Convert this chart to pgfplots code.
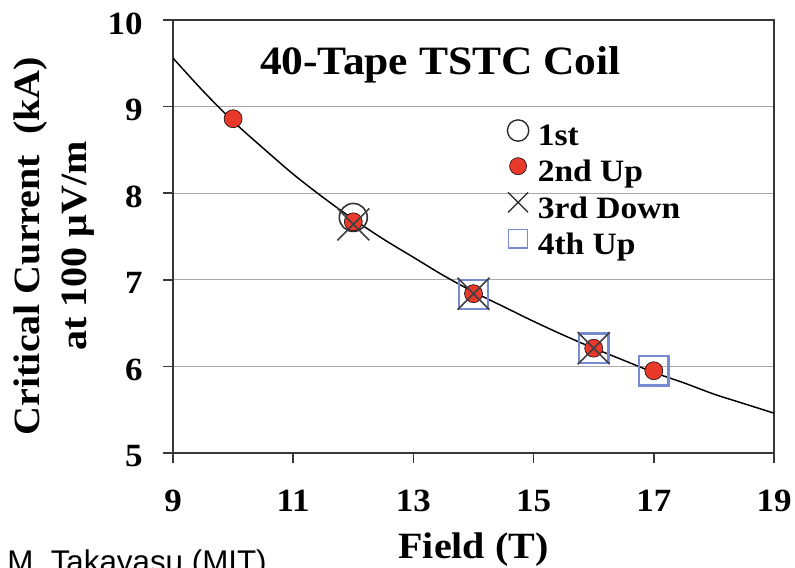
\documentclass[border=0pt]{standalone}
\usepackage{fontspec}
\setmainfont{Liberation Serif}[FakeStretch=1.08]
\newfontfamily\arialfont{Liberation Sans}
\usepackage{pgfplots}
\pgfplotsset{compat=1.18}
\definecolor{dotred}{RGB}{232,57,42}
\definecolor{sqblue}{RGB}{120,138,210}
\definecolor{gridgray}{RGB}{168,168,168}
\definecolor{axgray}{RGB}{55,55,55}
\begin{document}
\begin{tikzpicture}
\begin{axis}[
  scale only axis, width=450.75pt, height=324.75pt,
  xmin=9, xmax=19, ymin=5, ymax=10,
  xtick={9,11,...,19}, ytick={5,6,...,10},
  tick align=outside, tick pos=left, major tick length=7.5pt,
  axis line style={axgray, line width=1.2pt},
  every tick/.style={axgray, line width=1.2pt},
  ymajorgrids, major grid style={gridgray, line width=1pt},
  /pgf/number format/assume math mode=true,
  ticklabel style={font=\fontsize{24.3}{29}\selectfont\bfseries, inner sep=0pt},
  xticklabel style={anchor=base, yshift=-36pt},
  yticklabel style={anchor=east, xshift=-15pt, yshift=-2.6pt},
  xlabel={Field (T)},
  xlabel style={at={(axis description cs:0.5,-0.2425)}, anchor=base, font=\fontsize{27.8}{35}\selectfont\bfseries},
  ylabel={Critical Current\ \ (kA)\\at 100 μV/m},
  ylabel style={at={(axis description cs:-0.1975,0.478)}, anchor=center, align=center, font=\fontsize{27.8}{35}\selectfont\bfseries},
  legend image code/.code={\draw[#1] plot coordinates {(0pt,4.5pt)}; \path[draw=none,fill=none] (-8pt,-3.5pt) rectangle (8pt,12.5pt);},
  legend cell align=left,
  legend style={at={(axis description cs:0.556,0.77)}, anchor=north west, draw=none, fill=none, inner sep=0pt,
    row sep=3.8pt, column sep=4.75pt, font=\fontsize{23.3}{28}\selectfont\bfseries},
]
\addlegendimage{only marks, mark=o, mark size=8pt, draw=black!85, line width=1pt}
\addlegendentry{1st}
\addlegendimage{only marks, mark=*, mark size=6.4pt, draw=none, fill=dotred}
\addlegendentry{2nd Up}
\addlegendimage{only marks, mark=x, mark size=10.6pt, draw=black!85, line width=1pt}
\addlegendentry{3rd Down}
\addlegendimage{only marks, mark=square, mark size=7pt, draw=sqblue, line width=1pt}
\addlegendentry{4th Up}

% 1st
\addplot[forget plot, only marks, mark=o, mark size=10.5pt, draw=black!80, line width=1.2pt]
  coordinates {(12,7.72)};
% 4th Up
\addplot[forget plot, only marks, mark=square, mark size=11pt, draw=sqblue, line width=1.8pt]
  coordinates {(14,6.83) (16,6.21) (17,5.95)};
% 2nd Up
\addplot[forget plot, only marks, mark=*, mark size=6.75pt, draw=none, fill=dotred]
  coordinates {(10,8.86) (12,7.67) (14,6.84) (16,6.21) (17,5.95)};
% 3rd Down
\addplot[forget plot, only marks, mark=x, mark size=17pt, draw=black!75, line width=1.2pt]
  coordinates {(12,7.64) (14,6.84) (16,6.21)};
% fit
\addplot[forget plot, black, line width=1.1pt, smooth, no marks] coordinates {
  (9,9.56) (9.5,9.18) (10,8.83) (10.5,8.52) (11,8.22) (11.5,7.95) (12,7.70)
  (12.5,7.47) (13,7.26) (13.5,7.05) (14,6.86) (14.5,6.69) (15,6.52) (15.5,6.36)
  (16,6.21) (16.5,6.07) (17,5.93) (17.5,5.81) (18,5.68) (18.5,5.57) (19,5.46)};

\node[font=\fontsize{30.2}{36}\selectfont\bfseries, anchor=base] at (axis description cs:0.445,0.873) {40-Tape TSTC Coil};
\end{axis}
\pgfresetboundingbox
\useasboundingbox (-129.75pt,-85.5pt) rectangle (466.5pt,339.75pt);
\node[font=\arialfont\fontsize{23.5}{28}\selectfont, anchor=base west, inner sep=0pt] at (-124.5pt,-89.25pt) {M. Takayasu (MIT)};
\end{tikzpicture}
\end{document}
